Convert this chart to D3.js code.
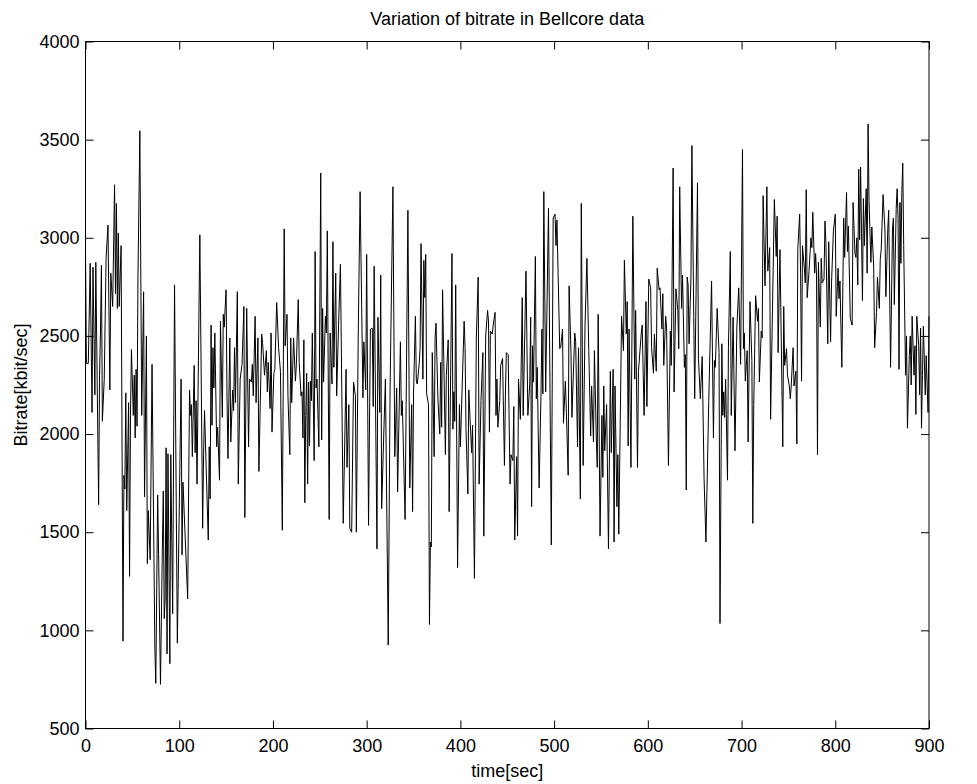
<!DOCTYPE html>
<html>
<head>
<meta charset="utf-8">
<script src="https://cdn.jsdelivr.net/npm/d3@7"></script>
<style>
  body { margin: 0; background: #fff; }
  svg text { font-family: "Liberation Sans", Arial, Helvetica, sans-serif; fill: #000; }
  .axis text { font-size: 18px; }
  .axis line { stroke: #000; }
</style>
</head>
<body>
<div class="render"></div>
<script>
// values (time in sec, bitrate in kbit/sec)
var times = [
  0, 1, 3, 5, 7, 8, 10, 11, 14, 15, 16, 17, 18, 20, 22, 24, 26, 27, 29, 31,
  32, 33, 34, 35, 36, 38, 40, 41, 42, 43, 44, 46, 47, 48, 49, 51, 52, 53, 54, 55,
  56, 58, 60, 62, 63, 65, 66, 67, 69, 71, 74, 75, 77, 78, 80, 82, 83, 84, 85, 86,
  87, 88, 90, 91, 93, 95, 98, 102, 103, 104, 109, 111, 112, 113, 114, 116, 117, 118, 119, 122,
  125, 126, 127, 131, 132, 133, 134, 135, 136, 137, 138, 140, 141, 143, 144, 146, 147, 148, 150, 151,
  152, 154, 155, 157, 158, 159, 160, 162, 163, 165, 167, 169, 170, 172, 174, 175, 177, 178, 179, 181,
  182, 184, 185, 188, 189, 191, 193, 194, 195, 197, 198, 199, 201, 202, 204, 206, 208, 210, 212, 213,
  215, 216, 218, 219, 220, 222, 224, 225, 227, 228, 230, 231, 232, 233, 234, 235, 236, 237, 238, 239,
  240, 241, 242, 244, 245, 246, 247, 249, 251, 252, 253, 254, 256, 257, 258, 260, 261, 263, 264, 265,
  267, 268, 270, 272, 275, 278, 279, 281, 282, 284, 286, 288, 289, 291, 293, 296, 297, 299, 300, 302,
  304, 306, 307, 308, 310, 311, 312, 314, 315, 316, 318, 320, 323, 325, 328, 330, 332, 333, 336, 337,
  338, 341, 344, 346, 348, 349, 350, 352, 353, 354, 356, 357, 358, 360, 361, 362, 363, 364, 366, 367,
  368, 369, 370, 372, 373, 374, 376, 378, 379, 380, 381, 384, 385, 387, 388, 391, 392, 393, 394, 395,
  397, 399, 400, 404, 405, 406, 408, 409, 410, 412, 413, 415, 417, 419, 420, 422, 424, 425, 427, 429,
  430, 431, 432, 434, 435, 437, 438, 439, 440, 442, 443, 445, 447, 448, 449, 451, 453, 454, 456, 457,
  458, 460, 461, 462, 464, 466, 467, 470, 472, 474, 475, 476, 477, 478, 480, 481, 482, 484, 486, 487,
  488, 489, 491, 494, 497, 499, 501, 502, 503, 506, 507, 509, 510, 512, 513, 515, 516, 518, 519, 522,
  523, 525, 526, 528, 529, 531, 533, 535, 537, 539, 540, 542, 543, 545, 546, 547, 549, 551, 552, 553,
  554, 556, 558, 560, 561, 563, 564, 565, 567, 568, 569, 572, 574, 575, 577, 578, 579, 580, 582, 584,
  586, 587, 589, 590, 593, 594, 596, 598, 599, 601, 603, 604, 606, 607, 609, 610, 612, 613, 615, 616,
  617, 619, 620, 622, 624, 625, 627, 628, 630, 632, 633, 634, 636, 637, 639, 640, 641, 642, 643, 644,
  646, 647, 649, 650, 653, 654, 656, 658, 660, 662, 665, 668, 670, 671, 672, 674, 676, 677, 679, 680,
  681, 682, 683, 685, 686, 688, 689, 691, 693, 695, 697, 699, 701, 702, 703, 704, 706, 707, 709, 711,
  712, 713, 715, 717, 718, 719, 721, 722, 723, 725, 727, 728, 730, 731, 735, 737, 738, 739, 741, 744,
  745, 746, 748, 749, 751, 752, 753, 755, 756, 758, 759, 760, 762, 763, 764, 765, 767, 768, 769, 770,
  772, 774, 775, 776, 778, 779, 780, 781, 782, 784, 785, 786, 788, 789, 790, 792, 793, 795, 796, 798,
  800, 801, 803, 804, 805, 807, 809, 810, 812, 813, 814, 816, 818, 819, 821, 822, 823, 824, 825, 826,
  827, 828, 829, 830, 831, 833, 834, 835, 836, 838, 839, 841, 842, 844, 845, 847, 848, 849, 851, 853,
  854, 856, 857, 859, 861, 862, 863, 865, 866, 867, 868, 869, 870, 871, 872, 873, 875, 876, 877, 879,
  880, 881, 882, 884, 885, 886, 887, 889, 890, 891, 892, 893, 894, 896, 897, 898, 899, 900
];
var bitrate = [
  2950, 2360, 2360, 2870, 2110, 2850, 2200, 2875, 1640, 2300, 2530, 2860, 2065, 2280, 2900, 3065, 2225, 2820, 2650, 3270,
  2715, 3175, 2640, 3025, 2650, 2960, 945, 1790, 1720, 2210, 1610, 2160, 1275, 2095, 2430, 2095, 2300, 1980, 2330, 2040,
  2810, 3545, 2095, 2725, 1680, 2500, 1340, 1610, 1360, 2355, 910, 730, 1690, 1385, 725, 1420, 1710, 1060, 1160, 1930,
  880, 1900, 830, 1895, 1085, 2760, 935, 2280, 1385, 1755, 1160, 2225, 2095, 2150, 1885, 2350, 1905, 2170, 1745, 3015,
  1520, 1895, 2120, 1460, 1935, 1670, 2555, 2045, 2440, 2235, 2515, 1935, 2035, 1765, 2575, 2085, 2610, 2545, 2735, 2185,
  1875, 2490, 1960, 2225, 2120, 2440, 2160, 2725, 1745, 2280, 2355, 2650, 1575, 2640, 1935, 2280, 2265, 2355, 2195, 2600,
  2160, 2490, 1810, 2510, 2460, 2300, 2425, 2215, 2365, 2130, 2515, 2010, 2310, 2330, 2670, 2440, 2320, 1510, 3045, 2450,
  2610, 2195, 1895, 2490, 2160, 2490, 2270, 2355, 2685, 2365, 2195, 2215, 1980, 2480, 1650, 2095, 2310, 1745, 2265, 1940,
  2270, 2170, 2515, 1865, 2930, 2235, 2280, 1935, 3330, 1970, 2640, 2265, 2600, 2515, 3035, 1565, 2515, 2255, 2980, 2340,
  2820, 2195, 2555, 2865, 1545, 2330, 1830, 2150, 1520, 1500, 2265, 2195, 1500, 2500, 3235, 2185, 2470, 2225, 2915, 1535,
  2535, 2540, 2140, 2855, 1895, 1415, 2595, 2110, 2810, 1620, 1960, 2280, 925, 2235, 3260, 1885, 2235, 1705, 2470, 2095,
  2170, 1565, 3140, 1725, 2150, 1605, 2205, 2600, 2270, 2255, 2355, 2435, 2970, 2280, 2885, 2695, 2915, 2205, 2150, 1030,
  1450, 1425, 2415, 1885, 2490, 2565, 2180, 2000, 2365, 2035, 2735, 1895, 2300, 2480, 1605, 2920, 2025, 2215, 2065, 2760,
  1320, 2150, 1935, 2575, 2440, 2025, 1695, 2225, 2110, 1905, 2045, 1265, 2490, 2800, 1745, 2170, 2415, 1480, 2500, 2630,
  2575, 2010, 2525, 2510, 2555, 2620, 2095, 2280, 2035, 2170, 2350, 2385, 1840, 2195, 2415, 2405, 1745, 1895, 1865, 2140,
  1460, 1885, 1480, 2280, 2075, 2695, 2095, 2830, 2095, 2255, 2595, 1630, 2450, 2265, 2905, 2180, 2340, 1725, 2205, 2535,
  2205, 3235, 2215, 3150, 1435, 3100, 3120, 2960, 3090, 2435, 2440, 2535, 2055, 2270, 2130, 1790, 2755, 2415, 2085, 2515,
  2470, 1935, 2440, 1670, 3175, 1840, 2555, 2895, 2425, 1990, 2245, 1960, 2425, 1980, 1830, 2610, 1480, 2095, 1780, 2245,
  1915, 2150, 1415, 2320, 1905, 2330, 1450, 2245, 1630, 1895, 1490, 2600, 2425, 2885, 2510, 2675, 1940, 2535, 1830, 3110,
  2280, 2630, 1830, 2320, 2515, 2555, 2095, 2675, 2140, 2790, 2745, 2440, 2310, 2510, 2320, 2845, 2735, 2745, 2535, 2715,
  2350, 2600, 2545, 1840, 2525, 2350, 3355, 2215, 2740, 2630, 2435, 3260, 2640, 2810, 2340, 2405, 1715, 2800, 2760, 2460,
  2800, 3470, 2600, 2180, 3280, 2385, 2180, 2395, 1775, 1450, 2170, 2780, 1980, 2375, 2340, 2640, 2415, 1035, 2460, 2095,
  2215, 2085, 2280, 1765, 2440, 2930, 2095, 2595, 1915, 2545, 2745, 2355, 3450, 2435, 2515, 2270, 2425, 1960, 2675, 2375,
  1545, 2150, 2705, 2575, 2640, 2265, 2525, 2490, 3215, 2755, 3260, 2830, 2950, 2075, 3195, 2905, 3110, 2415, 2940, 1935,
  2650, 2350, 2435, 2300, 2245, 2180, 2245, 2440, 2245, 2320, 1950, 2940, 3120, 2820, 2270, 2960, 2845, 2770, 3245, 2695,
  2830, 3000, 2950, 3130, 2820, 2920, 2810, 1895, 2875, 2545, 2895, 2770, 2790, 3085, 2980, 2460, 2980, 2470, 2770, 3035,
  3120, 2600, 2845, 2690, 2780, 2340, 3100, 2900, 3230, 2930, 3060, 2590, 2555, 3180, 2920, 2900, 3000, 2760, 3350, 2990,
  3360, 3020, 2680, 3200, 2960, 3250, 2820, 3580, 3190, 2875, 3055, 2850, 2440, 2620, 2800, 2640, 2890, 2940, 3220, 3040,
  2700, 3040, 3140, 2340, 3040, 3100, 2660, 3150, 3250, 3100, 2330, 3180, 2870, 3230, 3380, 2960, 2300, 2500, 2030, 2400,
  2500, 2250, 2600, 2300, 2450, 2100, 2600, 2450, 2200, 2540, 2030, 2300, 2550, 2200, 2400, 2250, 2110, 2600
];
var xTicks = [0, 100, 200, 300, 400, 500, 600, 700, 800, 900];
var yTicks = [500, 1000, 1500, 2000, 2500, 3000, 3500, 4000];

function draw() {
  var w = 977;
  var h = 784;
  var x0 = 85.5, x1 = 929, y0 = 41.5, y1 = 728.5;

  var svg = d3.select(".render").append("svg").attr("width", w).attr("height", h);
  svg.append("rect").attr("width", w).attr("height", h).attr("fill", "#fff");

  var xScale = d3.scaleLinear().domain([0, 900]).range([x0, x1]);
  var yScale = d3.scaleLinear().domain([500, 4000]).range([y1, y0]);

  var pts = times.map(function (t, i) { return [t, bitrate[i]]; });
  var line = d3.line().x(function (d) { return xScale(d[0]); }).y(function (d) { return yScale(d[1]); });
  svg.append("path").datum(pts).attr("d", line)
    .attr("fill", "none").attr("stroke", "#000").attr("stroke-width", 1);

  // ticks point inward on all four sides, like matlab
  var xAxis = d3.axisBottom(xScale).tickValues(xTicks).tickSizeInner(-8).tickSizeOuter(0).tickPadding(11).tickFormat(d3.format("d"));
  var yAxis = d3.axisLeft(yScale).tickValues(yTicks).tickSizeInner(-8).tickSizeOuter(0).tickPadding(6).tickFormat(d3.format("d"));
  var xTop = d3.axisTop(xScale).tickValues(xTicks).tickSizeInner(-8).tickSizeOuter(0).tickFormat("");
  var yRight = d3.axisRight(yScale).tickValues(yTicks).tickSizeInner(-8).tickSizeOuter(0).tickFormat("");

  svg.append("g").attr("class", "axis").attr("transform", "translate(0," + y1 + ")").call(xAxis);
  svg.append("g").attr("class", "axis").attr("transform", "translate(" + x0 + ",0)").call(yAxis);
  svg.append("g").attr("class", "axis").attr("transform", "translate(0," + y0 + ")").call(xTop);
  svg.append("g").attr("class", "axis").attr("transform", "translate(" + x1 + ",0)").call(yRight);
  svg.selectAll(".axis .domain").remove();
  svg.selectAll(".axis").attr("font-family", null).attr("font-size", null);

  svg.append("rect").attr("x", x0).attr("y", y0).attr("width", x1 - x0).attr("height", y1 - y0)
    .attr("fill", "none").attr("stroke", "#000").attr("stroke-width", 1);

  svg.append("text").text("Variation of bitrate in Bellcore data")
    .attr("x", (x0 + x1) / 2).attr("y", 25).attr("text-anchor", "middle").style("font-size", "18px");
  svg.append("text").text("time[sec]")
    .attr("x", (x0 + x1) / 2).attr("y", 777).attr("text-anchor", "middle").style("font-size", "18px");
  svg.append("text").text("Bitrate[kbit/sec]")
    .attr("transform", "translate(27," + (y0 + y1) / 2 + ")rotate(-90)")
    .attr("text-anchor", "middle").style("font-size", "18px");
}
draw();
</script>
</body>
</html>
